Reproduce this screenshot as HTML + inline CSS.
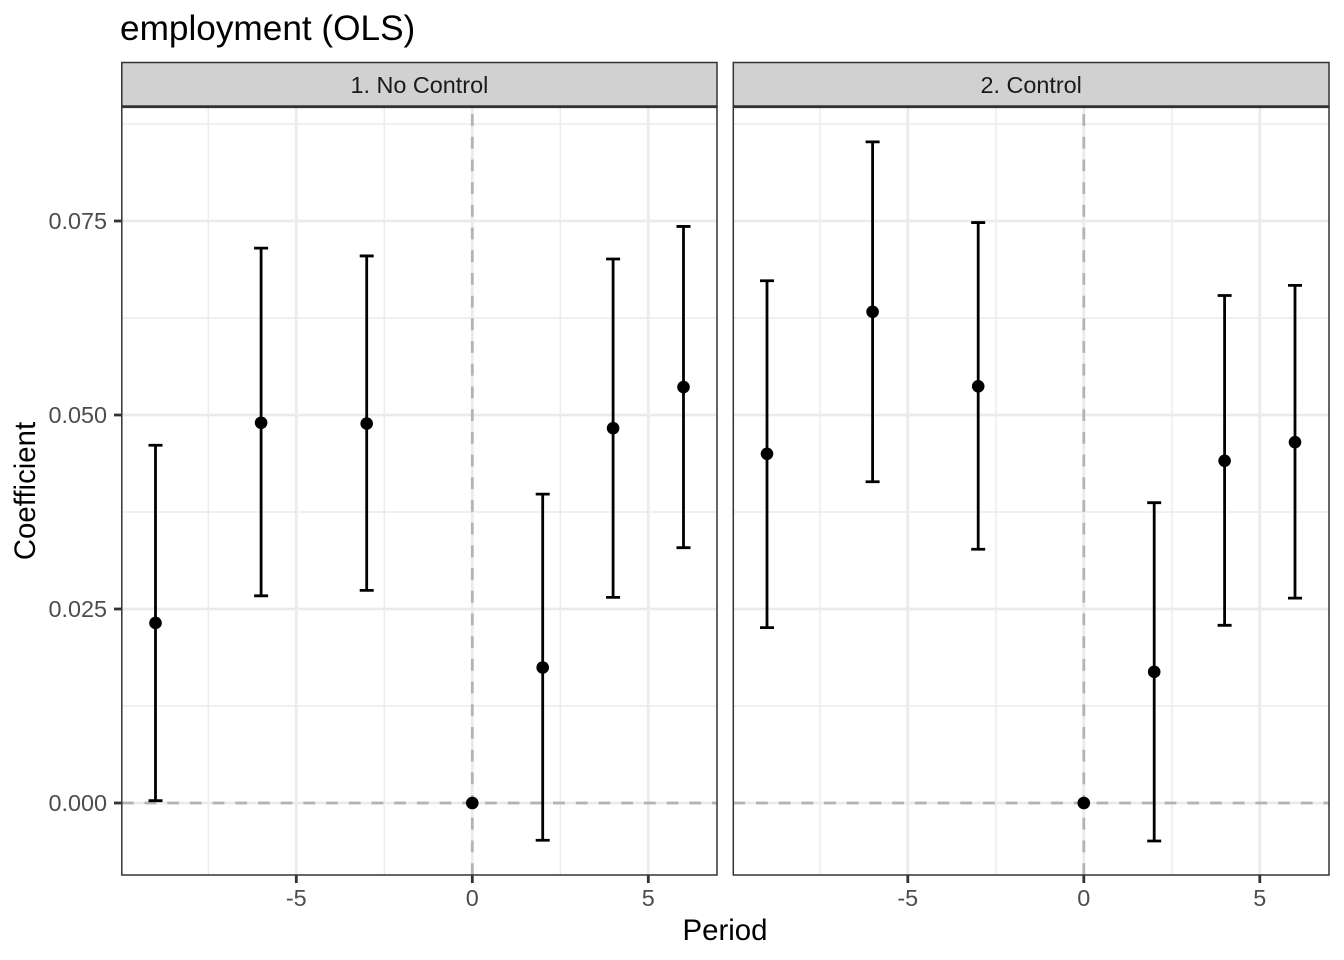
<!DOCTYPE html>
<html>
<head>
<meta charset="utf-8">
<title>employment (OLS)</title>
<style>
html,body{margin:0;padding:0;background:#fff;width:1344px;height:960px;overflow:hidden}
svg{display:block;font-family:"Liberation Sans",Arial,sans-serif}
</style>
</head>
<body>
<svg id="chart" xmlns="http://www.w3.org/2000/svg" width="1344" height="960" viewBox="0 0 1344 960"></svg>
<script>
const panelTitles = ['1. No Control', '2. Control'];
const periods = [-9, -6, -3, 0, 2, 4, 6];
const coefNoControl = [0.0232, 0.0490, 0.0489, 0, 0.01746, 0.0483, 0.0536];
const lowNoControl = [0.0003, 0.0267, 0.0274, 0, -0.0048, 0.0265, 0.0329];
const highNoControl = [0.0461, 0.0715, 0.0705, 0, 0.0398, 0.0701, 0.0743];
const coefControl = [0.0450, 0.0633, 0.0537, 0, 0.0169, 0.0441, 0.0465];
const lowControl = [0.0226, 0.0414, 0.0327, 0, -0.0049, 0.0229, 0.0264];
const highControl = [0.0673, 0.0852, 0.0748, 0, 0.0387, 0.0654, 0.0667];
const yTicks = [0, 0.025, 0.05, 0.075];
const yTickLabels = ['0.000', '0.025', '0.050', '0.075'];
const yMinorTicks = [0.0125, 0.0375, 0.0625, 0.0875];
const xTicks = [-5, 0, 5];
const xTickLabels = ['-5', '0', '5'];
const xMinorTicks = [-7.5, -2.5, 2.5];

const svg = document.getElementById('chart');
const NS = 'http://www.w3.org/2000/svg';
function add(tag, attrs, parent, text) {
  const el = document.createElementNS(NS, tag);
  for (const k in attrs) el.setAttribute(k, attrs[k]);
  if (text !== undefined) el.textContent = text;
  (parent || svg).appendChild(el);
  return el;
}
const panelTop = 106.7, panelBottom = 875, stripTop = 62.5;
const panelLefts = [121.8, 733.3];
const panelRights = [717, 1329];
const zeroX = [472.3, 1083.8];
const xScale = 35.2;
const yScale = 7760;
function yPos(v) { return 803 - v * yScale; }
function xPos(p, v) { return zeroX[p] + v * xScale; }

const seriesCoef = [coefNoControl, coefControl];
const seriesLow = [lowNoControl, lowControl];
const seriesHigh = [highNoControl, highControl];

const title = add('text', {x: 120, y: 40, 'font-size': 35.2, fill: '#000'}, svg, 'employment (OLS)');



const yTitle = add('text', {transform: 'translate(35 491) rotate(-90)', 'text-anchor': 'middle', 'font-size': 29.4, fill: '#000'}, svg, 'Coefficient');



const xTitle = add('text', {x: 725, y: 940, 'text-anchor': 'middle', 'font-size': 29.4, fill: '#000'}, svg, 'Period');



panelTitles.forEach(function (name, p) {
  const L = panelLefts[p], R = panelRights[p], W = R - L;
  const g = add('g', {});
  
  

  add('rect', {x: L, y: panelTop, width: W, height: panelBottom - panelTop, fill: '#fff'}, g);

  yMinorTicks.forEach(function (v) {
    const line = add('line', {x1: L, x2: R, y1: yPos(v), y2: yPos(v), stroke: '#ebebeb', 'stroke-width': 1.4}, g);
    
    
  });
  xMinorTicks.forEach(function (v) {
    const line = add('line', {x1: xPos(p, v), x2: xPos(p, v), y1: panelTop, y2: panelBottom, stroke: '#ebebeb', 'stroke-width': 1.4}, g);
    
    
  });
  yTicks.forEach(function (v) {
    const line = add('line', {x1: L, x2: R, y1: yPos(v), y2: yPos(v), stroke: '#ebebeb', 'stroke-width': 2.8}, g);
    
    
  });
  xTicks.forEach(function (v) {
    const line = add('line', {x1: xPos(p, v), x2: xPos(p, v), y1: panelTop, y2: panelBottom, stroke: '#ebebeb', 'stroke-width': 2.8}, g);
    
    
  });

  const hRef = add('line', {x1: L, x2: R, y1: yPos(0), y2: yPos(0), stroke: '#b3b3b3', 'stroke-width': 2.8, 'stroke-dasharray': '11.8 10.9'}, g);
  
  
  const vRef = add('line', {x1: xPos(p, 0), x2: xPos(p, 0), y1: panelBottom, y2: panelTop, stroke: '#b3b3b3', 'stroke-width': 2.8, 'stroke-dasharray': '11.8 10.9'}, g);
  
  

  periods.forEach(function (t, i) {
    const x = xPos(p, t), lo = yPos(seriesLow[p][i]), hi = yPos(seriesHigh[p][i]), c = yPos(seriesCoef[p][i]);
    const cap = 7;
    if (seriesLow[p][i] !== seriesHigh[p][i]) {
      const bar = add('path', {d: 'M' + (x - cap) + ' ' + hi + 'H' + (x + cap) + 'M' + x + ' ' + hi + 'V' + lo + 'M' + (x - cap) + ' ' + lo + 'H' + (x + cap), fill: 'none', stroke: '#000', 'stroke-width': 2.8}, g);
      
      
    }
    const dot = add('circle', {cx: x, cy: c, r: 6.3, fill: '#000'}, g);
    
    
  });

  const border = add('rect', {x: L, y: panelTop, width: W, height: panelBottom - panelTop, fill: 'none', stroke: '#333', 'stroke-width': 1.5}, g);
  
  

  const strip = add('rect', {x: L, y: stripTop, width: W, height: panelTop - stripTop, fill: '#d1d1d1', stroke: '#333', 'stroke-width': 1.5}, g);
  
  
  add('line', {x1: L, x2: R, y1: panelTop, y2: panelTop, stroke: '#333', 'stroke-width': 2.8}, g);
  const stripLabel = add('text', {x: (L + R) / 2, y: 93, 'text-anchor': 'middle', 'font-size': 23.4, fill: '#1a1a1a'}, g, name);
  
  

  xTicks.forEach(function (v, i) {
    const x = xPos(p, v);
    const tick = add('line', {x1: x, x2: x, y1: panelBottom, y2: panelBottom + 8, stroke: '#333', 'stroke-width': 2.8}, g);
    
    
    const label = add('text', {x: x, y: 906, 'text-anchor': 'middle', 'font-size': 23.4, fill: '#4d4d4d'}, g, xTickLabels[i]);
    
    
  });
});

yTicks.forEach(function (v, i) {
  const tick = add('line', {x1: 114, x2: 122, y1: yPos(v), y2: yPos(v), stroke: '#333', 'stroke-width': 2.8});
  
  
  const label = add('text', {x: 107, y: yPos(v) + 8, 'text-anchor': 'end', 'font-size': 23.4, fill: '#4d4d4d'}, svg, yTickLabels[i]);
  
  
});
</script>
</body>
</html>
